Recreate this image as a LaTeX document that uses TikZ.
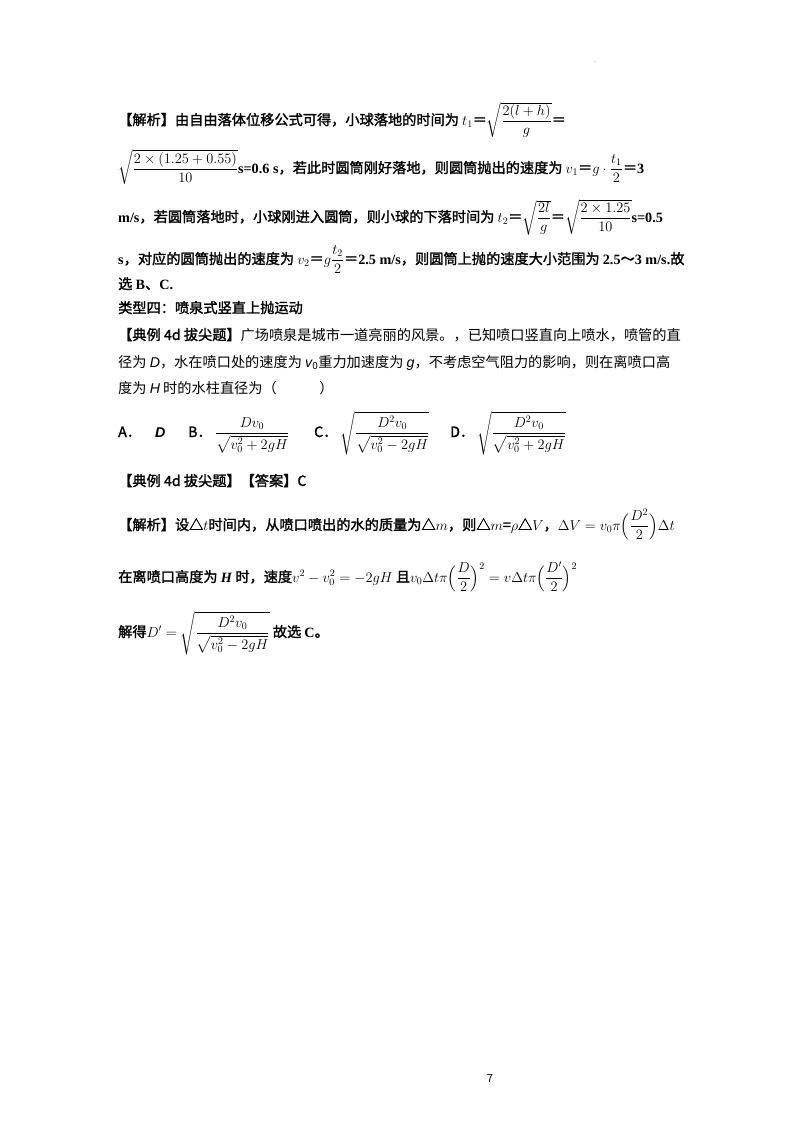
\documentclass[tikz,border=0pt]{standalone}
\usepackage{amsmath}
\usepackage{fontspec}
\setmainfont{Noto Sans CJK SC}[AutoFakeBold=1.6]
\newfontfamily\tnr{Liberation Serif}
\newfontfamily\lsi{Liberation Sans}
\begin{document}
\begin{tikzpicture}[x=1pt,y=-1pt,
  ln/.style={anchor=base west,inner sep=0pt,font=\fontsize{14.2}{16}\selectfont}]
\useasboundingbox (0,0) rectangle (800,1132);
\node[ln] (l1) at (118,125) {\textbf{【解析】由自由落体位移公式可得，小球落地的时间为 }$t_1$\textbf{＝}$\sqrt{\dfrac{2(l+h)}{g}}$\textbf{＝}};
\node[ln] (l2) at (118,173) {$\sqrt{\dfrac{2\times(1.25+0.55)}{10}}$\textbf{\tnr s=0.6 s}\textbf{，若此时圆筒刚好落地，则圆筒抛出的速度为 }$v_1$\textbf{＝}$g\cdot\dfrac{t_1}{2}$\textbf{＝\tnr 3}};
\node[ln] (l3) at (118,222) {\textbf{\tnr m/s}\textbf{，若圆筒落地时，小球刚进入圆筒，则小球的下落时间为 }$t_2$\textbf{＝}$\sqrt{\dfrac{2l}{g}}$\textbf{＝}$\sqrt{\dfrac{2\times1.25}{10}}$\textbf{\tnr s=0.5}};
\node[ln] (l4) at (118,264) {\textbf{\tnr s}\textbf{，对应的圆筒抛出的速度为 }$v_2$\textbf{＝}$g\dfrac{t_2}{2}$\textbf{＝\tnr 2.5 m/s}\textbf{，则圆筒上抛的速度大小范围为 \tnr 2.5}\textbf{～}\textbf{\tnr 3 m/s.}\textbf{故}};
\node[ln] (l5) at (118,289) {\textbf{选 \tnr B}\textbf{、}\textbf{\tnr C.}};
\node[ln] (l6) at (118,313) {\textbf{类型四：喷泉式竖直上抛运动}};
\node[ln] (l7) at (118,340) {\textbf{【典例 4d 拔尖题】}广场喷泉是城市一道亮丽的风景。，已知喷口竖直向上喷水，喷管的直};
\node[ln] (l8) at (118,367) {径为 {\lsi\itshape D}，水在喷口处的速度为 {\lsi\itshape v}\textsubscript{0}重力加速度为 {\lsi\itshape g}，不考虑空气阻力的影响，则在离喷口高};
\node[ln] (l9) at (118,393) {度为 {\lsi\itshape H} 时的水柱直径为（\hspace{3em}）};
\node[ln] (oa) at (118,437) {\textbf{A．}\quad{\lsi\bfseries\itshape D}};
\node[ln] (ob) at (188,437) {\textbf{B．}\ $\dfrac{Dv_0}{\sqrt{v_0^2+2gH}}$};
\node[ln] (oc) at (314,437) {\textbf{C．}\ $\sqrt{\dfrac{D^2v_0}{\sqrt{v_0^2-2gH}}}$};
\node[ln] (od) at (450,437) {\textbf{D．}\ $\sqrt{\dfrac{D^2v_0}{\sqrt{v_0^2+2gH}}}$};
\node[ln] (l11) at (118,486) {\textbf{【典例 4d 拔尖题】【答案】C}};
\node[ln] (l12) at (118,530) {\textbf{【解析】设△}$t$\textbf{时间内，从喷口喷出的水的质量为△}$m$\textbf{，则△}$m$\textbf{=}$\rho$\textbf{△}$V$\textbf{，}$\Delta V=v_0\pi\Big(\dfrac{D^2}{2}\Big)\Delta t$};
\node[ln] (l13) at (118,582) {\textbf{在离喷口高度为 }\textbf{\textit{\tnr H}}\textbf{ 时，速度}$v^2-v_0^2=-2gH$\textbf{ 且}$v_0\Delta t\pi\Big(\dfrac{D}{2}\Big)^2=v\Delta t\pi\Big(\dfrac{D'}{2}\Big)^2$};
\node[ln] (l14) at (118,637) {\textbf{解得}$D'=\sqrt{\dfrac{D^2v_0}{\sqrt{v_0^2-2gH}}}$\textbf{ 故选 \tnr C}\textbf{。}};
\node[anchor=base,inner sep=0pt,font=\fontsize{11}{12}\selectfont] (pg) at (490,1082) {7};
\node[inner sep=0pt,font=\tiny] (dot) at (595,62) {.};
\end{tikzpicture}
\end{document}
